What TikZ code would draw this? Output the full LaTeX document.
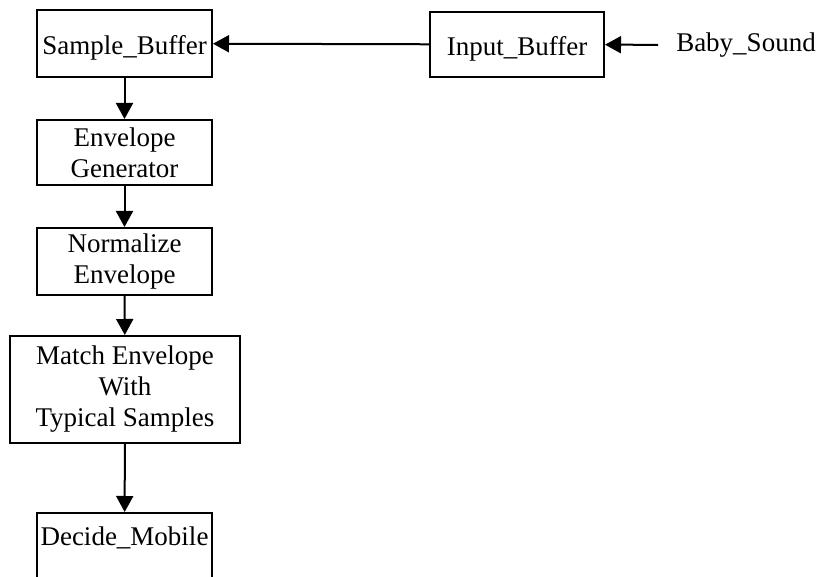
\documentclass[tikz,border=0pt]{standalone}
\usepackage{fontspec}
\setmainfont{Liberation Serif}
\usetikzlibrary{arrows.meta}
\begin{document}
\begin{tikzpicture}[x=1pt,y=1pt,
  every node/.style={font=\fontsize{27}{31}\selectfont, align=center},
  box/.style={draw, line width=2pt, rectangle, inner sep=0pt},
  oneline/.style={text height=23pt, text depth=1pt},
  conn/.style={line width=2pt, -{Triangle[length=16pt,width=17pt]}}]
\useasboundingbox (0,0) rectangle (820,-577);
\clip (0,0) rectangle (820,-577);
\node[box, oneline, minimum width=175, minimum height=67] (sample) at (124.5,-43.5) {Sample\_Buffer};
\node[box, minimum width=175, minimum height=65] (env) at (124.5,-152.5) {Envelope\\Generator};
\node[box, minimum width=175, minimum height=67] (norm) at (124.5,-261.5) {Normalize\\Envelope};
\node[box, minimum width=230, minimum height=107] (match) at (125,-389.5) {Match Envelope\\With\\Typical Samples};
\node[box, minimum width=175, anchor=north, inner ysep=13pt, text height=19pt, text depth=70pt] (decide) at (124.5,-512) {Decide\_Mobile};
\node[box, oneline, minimum width=174, minimum height=65] (input) at (517,-44.5) {Input\_Buffer};
\node[text height=19pt, text depth=6pt, inner xsep=18pt, inner ysep=0pt] (baby) at (746,-45) {Baby\_Sound};
\draw[conn] (baby) -- (input);
\draw[conn] (input) -- (sample);
\draw[conn] (sample) -- (env);
\draw[conn] (env) -- (norm);
\draw[conn] (norm) -- (match);
\draw[conn] (match) -- (decide);
\end{tikzpicture}
\end{document}
